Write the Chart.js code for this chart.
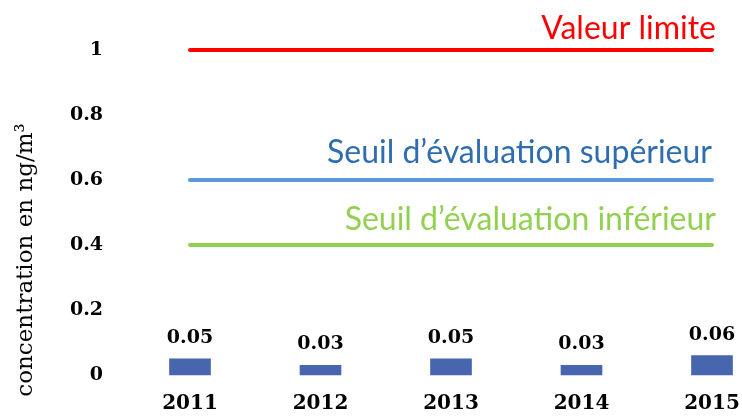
<!DOCTYPE html>
<html>
<head>
<meta charset="utf-8">
<script src="https://cdn.jsdelivr.net/npm/chart.js@4"></script>
<style>
  body { margin: 0; background: #fff; }
  #wrap { width: 742px; height: 416px; }
</style>
</head>
<body>
<div id="wrap"><canvas id="myChart"></canvas></div>
<script>
const years = ['2011', '2012', '2013', '2014', '2015'];
const concentrations = [0.05, 0.03, 0.05, 0.03, 0.06];
const thresholdNames = ['Valeur limite', 'Seuil d\u2019\u00e9valuation sup\u00e9rieur', 'Seuil d\u2019\u00e9valuation inf\u00e9rieur'];
const thresholdValues = [1, 0.6, 0.4];
const yTicks = [0, 0.2, 0.4, 0.6, 0.8, 1];

const lineColors = ['#FF0000', '#5B9BD5', '#92D050'];
const textColors = ['#FF0000', '#2E6DB0', '#92D050'];
const labelLift = [11, 17, 15];
const labelShift = [4, 0, 4];

const numFont = 'bold 19px "DejaVu Serif"';

// value labels over bars + threshold captions + y title
const extras = {
    id: 'extras',
    afterDraw(chart) {
        const c = chart.ctx;
        const x = chart.scales.x, y = chart.scales.y;
        c.save();
        c.fillStyle = '#000';
        c.font = numFont;
        c.textAlign = 'center';
        c.textBaseline = 'alphabetic';
        chart.getDatasetMeta(0).data.forEach((bar, i) => {
            c.fillText(concentrations[i].toFixed(2), bar.x, bar.y - 16);
        });

        c.font = '32px Lato';
        c.textAlign = 'right';
        const xEnd = x.getPixelForValue(years.length - 1);
        thresholdNames.forEach((name, i) => {
            c.fillStyle = textColors[i];
            c.fillText(name, xEnd + labelShift[i], y.getPixelForValue(thresholdValues[i]) - labelLift[i]);
        });

        c.translate(26, 260);
        c.rotate(-Math.PI / 2);
        c.fillStyle = '#000';
        c.font = '23px "DejaVu Serif"';
        c.textAlign = 'center';
        c.textBaseline = 'middle';
        c.fillText('concentration en ng/m\u00b3', 0, 0);
        c.restore();
    }
};

const lineSets = thresholdNames.map((name, i) => ({
    type: 'line',
    label: name,
    data: years.map(() => thresholdValues[i]),
    borderColor: lineColors[i],
    borderWidth: 4,
    borderCapStyle: 'round',
    pointRadius: 0,
    clip: false
}));

new Chart(document.getElementById('myChart'), {
    type: 'bar',
    data: {
        labels: years,
        datasets: [{
            label: 'concentration',
            data: concentrations,
            backgroundColor: '#4766AE',
            barThickness: 41,
            clip: false
        }, ...lineSets]
    },
    options: {
        responsive: true,
        maintainAspectRatio: false,
        animation: false,
        layout: { padding: { left: 69, right: 30, top: 50, bottom: 0 } },
        plugins: {
            legend: { display: false },
            tooltip: { enabled: false }
        },
        scales: {
            x: {
                offset: false,
                grid: { display: false, drawTicks: false },
                border: { display: false },
                afterFit: axis => { axis.height = 41; axis.paddingLeft = 0; axis.paddingRight = 0; },
                ticks: { color: '#000', font: { family: 'DejaVu Serif', size: 20, weight: 'bold' }, padding: 17, maxRotation: 0 }
            },
            y: {
                min: 0,
                max: 1,
                grid: { display: false, drawTicks: false },
                border: { display: false },
                afterFit: axis => { axis.width = 121; axis.paddingTop = 0; axis.paddingBottom = 0; },
                afterBuildTicks: axis => { axis.ticks = yTicks.map(v => ({ value: v })); },
                ticks: {
                    color: '#000',
                    padding: 87,
                    font: { family: 'DejaVu Serif', size: 19, weight: 'bold' },
                    callback: v => String(v)
                }
            }
        }
    },
    plugins: [extras]
});
</script>
</body>
</html>
